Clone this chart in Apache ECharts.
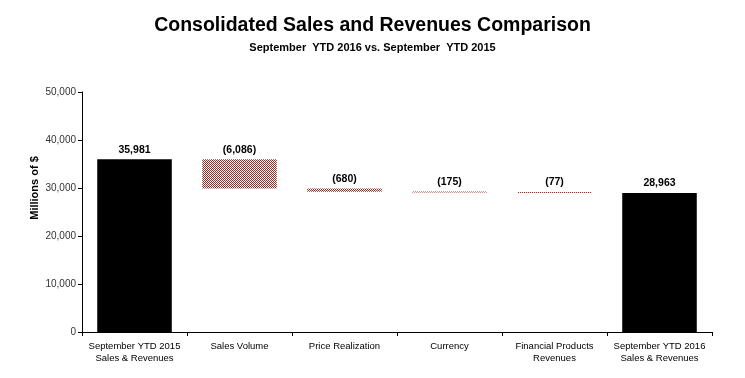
<!DOCTYPE html>
<html>
<head>
<meta charset="utf-8">
<script src="https://cdn.jsdelivr.net/npm/echarts@6/dist/echarts.min.js"></script>
<style>
html,body{margin:0;padding:0;background:#fff;}
#c{width:745px;height:378px;}
</style>
</head>
<body>
<div id="c"></div>
<script>
const categories = ['September YTD 2015\nSales & Revenues', 'Sales Volume', 'Price Realization', 'Currency', 'Financial Products\nRevenues', 'September YTD 2016\nSales & Revenues'];
const stepValues = [35981, -6086, -680, -175, -77, 28963];
const isTotal = [true, false, false, false, false, true];
const yTicks = [0, 10000, 20000, 30000, 40000, 50000];
const yAxisTitle = 'Millions of $';

const FONT = "'Liberation Sans Narrow','Arial Narrow','Liberation Sans',Arial,sans-serif";

// pattern for change bars
const pc = document.createElement('canvas');
pc.width = 2; pc.height = 2;
const pctx = pc.getContext('2d');
pctx.fillStyle = '#ffffff'; pctx.fillRect(0,0,2,2);
pctx.fillStyle = '#b82020';
pctx.fillRect(0,0,1,1);
pctx.fillRect(1,1,1,1);

const baseData = [], barData = [];
let running = 0;
stepValues.forEach((v, i) => {
  if (isTotal[i]) {
    baseData.push(0);
    barData.push({value: v, itemStyle: {color: '#000000'}});
    running = v;
  } else {
    const top = running;
    running = running + v;
    baseData.push(Math.min(top, running));
    barData.push({value: Math.abs(v), itemStyle: {color: {image: pc, repeat: 'repeat'}}});
  }
});

function fmt(n){ return Math.abs(n).toLocaleString('en-US'); }

const chart = echarts.init(document.getElementById('c'), null, {renderer: 'canvas'});
chart.setOption({
  animation: false,
  backgroundColor: '#ffffff',
  title: [
    {text: 'Consolidated Sales and Revenues Comparison', left: 'center', top: 11,
     textStyle: {fontFamily: FONT, fontSize: 19.5, fontWeight: 'bold', color: '#000'}},
    {text: 'September  YTD 2016 vs. September  YTD 2015', left: 'center', top: 37,
     textStyle: {fontFamily: FONT, fontSize: 11, fontWeight: 'bold', color: '#000'}}
  ],
  graphic: [{
    type: 'text', x: 35, y: 188, rotation: Math.PI / 2,
    style: {text: yAxisTitle, font: 'bold 11px ' + FONT, fill: '#000', align: 'center', verticalAlign: 'middle'}
  }],
  grid: {left: 82, right: 33, top: 92, bottom: 46, containLabel: false},
  xAxis: {
    type: 'category', data: categories,
    axisLine: {lineStyle: {color: '#000', width: 1}},
    axisTick: {show: true, alignWithLabel: false, length: 4, lineStyle: {color: '#000'}},
    axisLabel: {fontFamily: FONT, fontSize: 9.5, color: '#000', interval: 0, margin: 8, lineHeight: 12}
  },
  yAxis: {
    type: 'value', min: 0, max: 50000, interval: 10000,
    axisLine: {show: true, lineStyle: {color: '#000'}},
    axisTick: {show: true, length: 4, lineStyle: {color: '#000'}},
    splitLine: {show: false},
    axisLabel: {fontFamily: FONT, fontSize: 10, color: '#333', margin: 6,
      formatter: v => v.toLocaleString('en-US')}
  },
  series: [
    {type: 'bar', stack: 'w', data: baseData, barWidth: '71%',
     itemStyle: {color: 'transparent'}, silent: true},
    {type: 'bar', stack: 'w', data: barData, barWidth: '71%', barMinHeight: 1,
     label: {show: true, position: 'top', distance: 4, fontFamily: FONT, fontSize: 10.5, fontWeight: 'bold', color: '#000',
       formatter: p => {
         const v = stepValues[p.dataIndex];
         return v < 0 ? '(' + fmt(v) + ')' : fmt(v);
       }}}
  ]
});
</script>
</body>
</html>
